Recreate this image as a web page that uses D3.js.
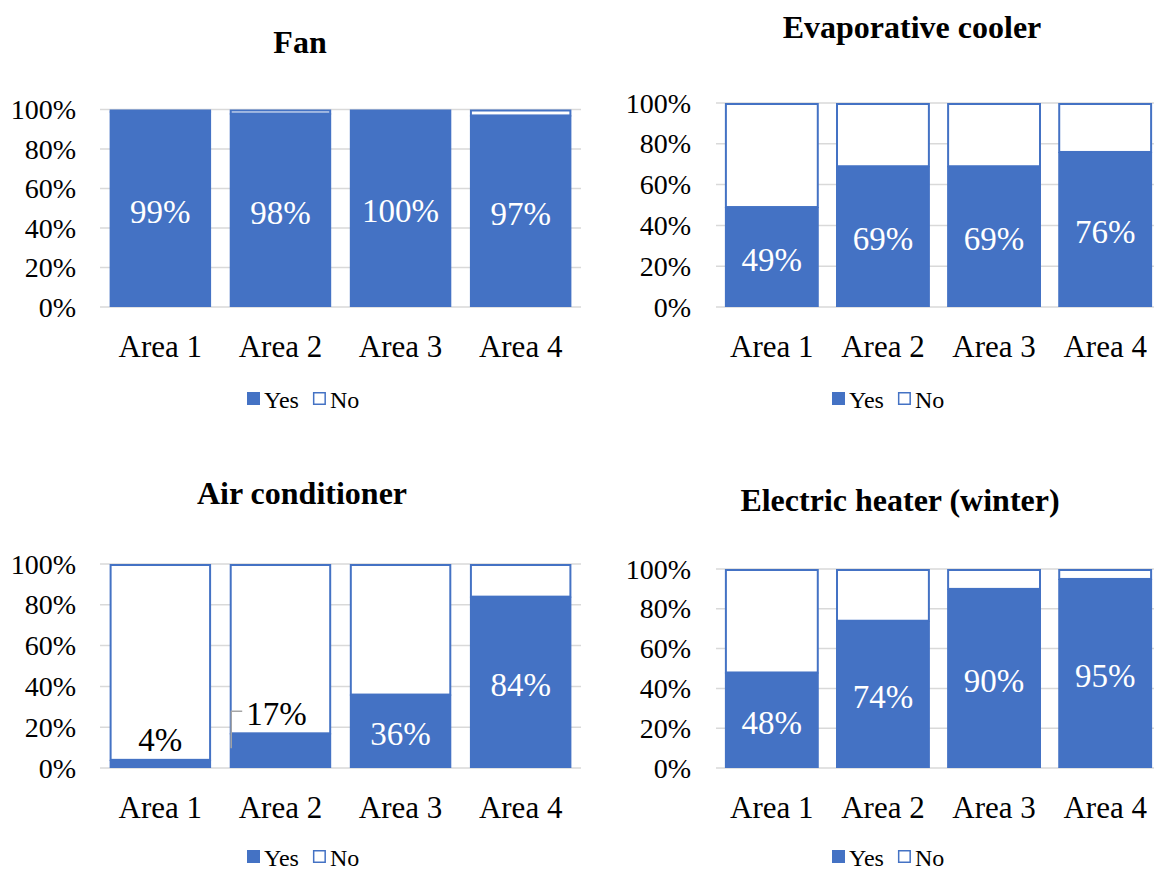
<!DOCTYPE html>
<html>
<head>
<meta charset="utf-8">
<script src="https://cdn.jsdelivr.net/npm/d3@7/dist/d3.min.js"></script>
<style>
  html, body { margin: 0; padding: 0; background: #fff; }
  svg text { font-family: "Liberation Serif", "Times New Roman", Times, "DejaVu Serif", serif; }
</style>
</head>
<body>
<svg id="chart" width="1154" height="870"></svg>
<script>
// Categories and tick labels shared by all four panels
const areas = ["Area 1", "Area 2", "Area 3", "Area 4"];
const yTicks = [0, 20, 40, 60, 80, 100];
const seriesNames = ["Yes", "No"];

// Share of households answering "Yes" (%), per appliance
const fanYes = [99, 98, 100, 97];
const coolerYes = [49, 69, 69, 76];
const acYes = [4, 17, 36, 84];
const heaterYes = [48, 74, 90, 95];

const BLUE = "#4472C4";
const GRID = "#D9D9D9";
const FONT = "'Liberation Serif', 'Times New Roman', Times, 'DejaVu Serif', serif";

// Panel placement on the page
const panels = [
  { title: "Fan", yes: fanYes, x0: 100, x1: 581, yTop: 109.5, yBot: 307,
    titleX: 300, titleY: 53, tickX: 76, catY: 357, legendX: 305, legendY: 408 },
  { title: "Evaporative cooler", yes: coolerYes, x0: 716, x1: 1161, yTop: 103, yBot: 307,
    titleX: 912, titleY: 38, tickX: 691, catY: 357, legendX: 890, legendY: 408 },
  { title: "Air conditioner", yes: acYes, x0: 100, x1: 581, yTop: 564, yBot: 768,
    titleX: 302, titleY: 504, tickX: 76, catY: 818, legendX: 305, legendY: 866,
    outside: true },
  { title: "Electric heater (winter)", yes: heaterYes, x0: 716, x1: 1161, yTop: 569, yBot: 768,
    titleX: 900, titleY: 511, tickX: 691, catY: 818, legendX: 890, legendY: 866 }
];

const svg = d3.select("#chart");

panels.forEach(p => {
  const g = svg.append("g").attr("font-family", FONT);
  const rows = areas.map((a, i) => ({ area: a, yes: p.yes[i], no: 100 - p.yes[i] }));

  const x = d3.scaleBand().domain(areas).range([p.x0, p.x1])
    .paddingInner(0.155).paddingOuter(0.08);
  const y = d3.scaleLinear().domain([0, 100]).range([p.yBot, p.yTop]);

  // title
  g.append("text")
    .attr("x", p.titleX).attr("y", p.titleY)
    .attr("text-anchor", "middle")
    .attr("font-size", 32).attr("font-weight", "bold")
    .attr("fill", "#000")
    .text(p.title);

  // gridlines
  g.selectAll("line.grid").data(yTicks).join("line")
    .attr("class", "grid")
    .attr("x1", p.x0).attr("x2", p.x1)
    .attr("y1", d => y(d)).attr("y2", d => y(d))
    .attr("stroke", GRID).attr("stroke-width", 1.5);

  // y tick labels
  g.selectAll("text.ytick").data(yTicks).join("text")
    .attr("class", "ytick")
    .attr("x", p.tickX).attr("y", d => y(d))
    .attr("dy", "0.34em")
    .attr("text-anchor", "end")
    .attr("font-size", 28)
    .attr("fill", "#000")
    .text(d => d + "%");

  // stacked segments
  const stack = d3.stack().keys(["yes", "no"])(rows);
  const segs = g.selectAll("g.series").data(stack).join("g").attr("class", "series");
  segs.each(function (layer) {
    const isYes = layer.key === "yes";
    d3.select(this).selectAll("rect").data(layer.filter(d => d[1] - d[0] > 0)).join("rect")
      .attr("x", d => x(d.data.area) + (isYes ? 0 : 1))
      .attr("width", x.bandwidth() - (isYes ? 0 : 2))
      .attr("y", d => y(d[1]) + (isYes ? 0 : 1))
      .attr("height", d => Math.max(0, y(d[0]) - y(d[1]) - (isYes ? 0 : 1)))
      .attr("fill", isYes ? BLUE : "#fff")
      .attr("stroke", isYes ? "none" : BLUE)
      .attr("stroke-width", 2);
  });

  // value labels on the Yes segments
  rows.forEach(r => {
    const cx = x(r.area) + x.bandwidth() / 2;
    const segH = y(0) - y(r.yes);
    if (p.outside && segH < 40) {
      // small segments: label sits above the bar segment in black
      const ly = y(r.yes) - 20;
      const shift = r.yes > 10 ? -4 : 0;
      g.append("text")
        .attr("x", cx + shift).attr("y", ly)
        .attr("dy", "0.35em").attr("text-anchor", "middle")
        .attr("font-size", 33).attr("fill", "#000")
        .text(r.yes + "%");
      if (r.yes > 10) {
        // leader line from label back into the segment
        const lx = x(r.area) + 1.5;
        g.append("path")
          .attr("d", `M${lx + 11},${ly - 2}H${lx}V${y(r.yes) + 15}`)
          .attr("fill", "none").attr("stroke", "#A5A5A5").attr("stroke-width", 1.5);
      }
    } else {
      g.append("text")
        .attr("x", cx).attr("y", y(r.yes / 2) + 2)
        .attr("dy", "0.35em").attr("text-anchor", "middle")
        .attr("font-size", 33).attr("fill", "#fff")
        .text(r.yes + "%");
    }
  });

  // category labels
  g.selectAll("text.cat").data(areas).join("text")
    .attr("class", "cat")
    .attr("x", d => x(d) + x.bandwidth() / 2).attr("y", p.catY)
    .attr("text-anchor", "middle")
    .attr("font-size", 31).attr("fill", "#000")
    .text(d => d);

  // legend
  const lg = g.append("g").attr("transform", `translate(${p.legendX - 58},${p.legendY})`);
  let off = 0;
  seriesNames.forEach((name, i) => {
    const item = lg.append("g").attr("transform", `translate(${off},0)`);
    item.append("rect")
      .attr("x", i === 0 ? 0 : 0.75).attr("y", i === 0 ? -16 : -15.25)
      .attr("width", i === 0 ? 13 : 11.5).attr("height", i === 0 ? 13 : 11.5)
      .attr("fill", i === 0 ? BLUE : "#fff")
      .attr("stroke", i === 0 ? "none" : BLUE).attr("stroke-width", 1.5);
    const t = item.append("text")
      .attr("x", 17).attr("y", 0)
      .attr("font-size", 24).attr("fill", "#000")
      .text(name);
    off += 17 + t.node().getComputedTextLength() + 14;
  });
});
</script>
</body>
</html>
